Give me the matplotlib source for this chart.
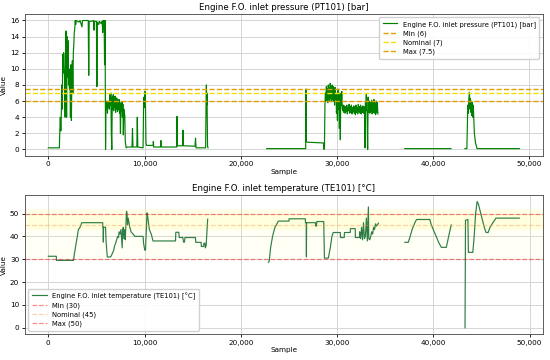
import numpy as np
import matplotlib
matplotlib.use('Agg')
import matplotlib.pyplot as plt

# pressure PT101 [bar], four logged segments (sample, value)
p1_x = [0, 1150, 1200, 1250, 1300, 1350, 1400, 1450, 1500, 1550, 1600, 1650, 1700, 1750,
        1800, 1850, 1900, 1950, 2000, 2050, 2100, 2150, 2200, 2250, 2300, 2350, 2400, 2450,
        2500, 2550, 2600, 2650, 2700, 2750, 2800, 2850, 2900, 3200, 3300, 3500, 3550, 4000,
        4150, 4200, 4250, 4500, 4700, 4750, 4800, 5000, 5050, 5100, 5250, 5300, 5500, 5600,
        5650, 5700, 5750, 5800, 5850, 5900, 5950, 6000, 6050, 6100, 6150, 6200, 6250, 6300,
        6350, 6400, 6450, 6500, 6550, 6600, 6650, 6700, 6750, 6800, 6850, 6900, 6950, 7000,
        7050, 7100, 7150, 7200, 7250, 7300, 7350, 7400, 7450, 7500, 7550, 7600, 7650, 7700,
        7750, 7800, 7850, 7900, 7950, 8000, 8050, 8100, 8200, 8700, 8750, 8800, 9200, 9250,
        9300, 9850, 9900, 9950, 10000, 10050, 10100, 10150, 10200, 10900, 10920, 10950,
        11650, 11700, 11750, 13350, 13380, 13420, 13950, 14000, 14050, 15250, 15300, 15350,
        16350, 16400, 16430, 16460, 16490, 16520, 16550, 16600]
p1_y = [0.2, 0.2, 2.5, 4.0, 2.3, 4.2, 8.0, 5.0, 11.8, 9.5, 12.0, 10.0, 8.5, 4.0,
        13.0, 14.7, 4.0, 14.0, 9.0, 13.5, 8.0, 10.0, 7.5, 9.5, 4.0, 10.5, 3.6, 9.0,
        11.0, 7.0, 12.0, 13.0, 14.5, 15.0, 16.0, 15.5, 16.0, 15.8, 16.0, 15.2, 16.0, 16.0,
        16.0, 9.2, 15.9, 15.9, 16.0, 14.8, 15.9, 15.9, 7.8, 15.8, 15.5, 15.9, 15.6, 15.9,
        14.5, 16.0, 15.0, 16.0, 10.5, 16.0, 0.0, 6.0, 5.0, 5.8, 4.5, 6.0, 5.2, 5.7,
        5.0, 6.8, 5.5, 7.0, 2.0, 0.0, 6.5, 5.0, 6.8, 4.8, 6.5, 5.2, 6.6, 4.6,
        6.4, 5.0, 6.3, 4.7, 6.0, 5.0, 6.2, 4.5, 5.8, 2.0, 5.5, 4.8, 5.9, 4.0,
        5.6, 1.8, 5.0, 4.5, 4.2, 1.0, 0.5, 0.2, 0.3, 0.3, 2.6, 0.3, 0.3, 4.0,
        0.3, 0.2, 5.0, 6.5, 5.2, 7.2, 5.5, 0.8, 0.5, 0.5, 1.0, 0.3,
        0.3, 1.1, 0.3, 0.3, 4.1, 0.45, 0.45, 2.4, 0.45, 0.4, 1.4, 0.2,
        0.2, 6.0, 8.0, 5.5, 7.0, 4.0, 0.4, 0.2]

p2_x = [22700, 26750, 26780, 26820, 26900, 28600, 28650, 28700, 28750, 28800, 28850, 28900,
        28950, 29000, 29050, 29100, 29150, 29200, 29250, 29300, 29350, 29400, 29450, 29500,
        29550, 29600, 29650, 29700, 29750, 29800, 29850, 29900, 29950, 30000, 30050, 30100,
        30150, 30200, 30250, 30300, 30350, 30400, 30450, 30500, 30550, 30600, 30660, 30720,
        30780, 30840, 30900, 30960, 31020, 31080, 31140, 31200, 31260, 31320, 31380, 31440,
        31500, 31560, 31620, 31680, 31740, 31800, 31860, 31920, 31980, 32040, 32100, 32160,
        32220, 32280, 32340, 32400, 32460, 32520, 32580, 32640, 32700, 32760, 32820, 32880,
        32920, 32960, 33000, 33050, 33090, 33130, 33190, 33240, 33300, 33360, 33420, 33480,
        33540, 33600, 33660, 33720, 33780, 33840, 33900, 33960, 34020, 34080, 34140, 34200,
        34250]
p2_y = [0.1, 0.1, 7.5, 1.0, 0.9, 0.8, 0.0, 0.1, 5.5, 7.0, 6.0, 7.8,
        6.2, 7.5, 5.8, 8.0, 6.3, 7.6, 6.0, 8.2, 6.4, 7.7, 5.9, 8.0,
        6.2, 7.8, 6.0, 7.5, 5.5, 7.7, 6.2, 7.0, 4.5, 6.8, 3.6, 7.5,
        5.0, 6.5, 2.6, 7.0, 1.2, 6.8, 5.5, 7.2, 5.2, 4.8, 5.5, 4.6,
        5.4, 4.5, 5.3, 4.7, 5.5, 4.4, 5.2, 4.8, 5.6, 4.5, 5.3, 4.6,
        5.5, 4.4, 5.2, 4.7, 5.4, 4.5, 5.3, 4.3, 5.5, 4.6, 5.2, 4.4,
        5.6, 4.7, 5.3, 4.5, 5.5, 4.4, 5.2, 4.6, 5.4, 4.5, 5.3, 4.7,
        0.2, 5.8, 4.8, 6.8, 5.0, 4.6, 0.0, 6.5, 4.6, 6.0, 4.5, 5.8,
        4.7, 6.1, 4.4, 5.9, 4.6, 6.2, 4.5, 5.7, 4.3, 6.0, 4.6, 5.8,
        4.4]

p3_x = [37050, 41850]
p3_y = [0.1, 0.1]

p4_x = [43300, 43500, 43550, 43600, 43650, 43700, 43770, 43820, 43870, 43920, 43970,
        44020, 44070, 44120, 44170, 44220, 44280, 44400, 44560, 48950]
p4_y = [0.1, 0.1, 3.0, 5.5, 4.5, 6.2, 7.1, 5.0, 6.3, 4.6, 6.0,
        4.2, 5.8, 4.0, 5.5, 4.0, 2.0, 0.8, 0.1, 0.1]

# temperature TE101 [degC], four logged segments
t1_x = [0, 830, 850, 2620, 2700, 2900, 3050, 3130, 3300, 3480, 5650, 5670, 5700, 5720,
        5740, 5950, 6000, 6130, 6480, 6600, 6800, 6900, 7000, 7100, 7200, 7300, 7350, 7450,
        7550, 7600, 7680, 7720, 7800, 7850, 7900, 7950, 8000, 8050, 8130, 8180, 8230, 8300,
        8470, 8600, 8810, 9000, 9330, 9850, 9900, 10020, 10100, 10260, 10350, 10500, 10700,
        10880, 13220, 13250, 13560, 13600, 13980, 14050, 14150, 14200, 15290, 15320, 15880,
        15900, 16150, 16170, 16280, 16320, 16400, 16560]
t1_y = [31.3, 31.3, 29.5, 29.5, 32, 37, 41, 43, 44, 46, 46, 44, 44, 37.5,
        44, 44, 38, 31, 31, 32, 34, 36, 37, 38.5, 40, 39.5, 42, 41,
        43, 40, 35, 43, 44, 39, 41, 43, 38.5, 44, 51, 50, 45, 48,
        44, 42, 41, 40, 40, 40, 37, 34, 34, 50.3, 48, 43, 41,
        38, 38, 41.8, 41.8, 39.5, 39.5, 37.5, 37.5, 39.5, 39.5, 37.4, 37.4,
        35.6, 35.6, 37, 37, 35, 36, 47.5]

t2_x = [22860, 22950, 23100, 23300, 23550, 23700, 23900, 25000, 25020, 26700, 26720, 26800,
        26820, 26840, 27760, 27800, 27860, 27900, 28620, 28690, 29100, 29300, 29470, 29600,
        30340, 30360, 30750, 30770, 31370, 31390, 31890, 31910, 32330, 32350, 32450, 32550,
        32650, 32750, 32850, 32950, 33050, 33150, 33260, 33300, 33400, 33500, 33600, 33700,
        33800, 33900, 34000, 34100, 34300]
t2_y = [28.7, 29, 35, 40, 44, 45, 46.7, 46.7, 47.7, 47.7, 46, 46,
        31, 46, 46, 44.5, 44.5, 46.5, 46.5, 30.5, 30.5, 35, 40, 41.7,
        41.7, 39.5, 39.5, 41.7, 41.7, 43.4, 43.4, 39.5, 39.5, 42, 39, 44,
        38.5, 46, 39, 40, 48, 38, 52.9, 39, 38.5, 40, 42, 41,
        44, 43, 45.5, 44.5, 45.8]

t3_x = [37050, 37400, 37600, 37800, 38090, 38260, 39640, 39800, 40000, 40200, 40400, 40600,
        40840, 41350, 41500, 41700, 41870]
t3_y = [37.4, 37.4, 40, 43, 46, 47.4, 47.4, 45, 43, 41, 39, 37,
        35.2, 35.2, 38, 42, 45]

t4_x = [43300, 43350, 43600, 43650, 44110, 44250, 44400, 44560, 44700, 45000, 45300, 45490,
        45700, 45900, 46200, 46520, 48940]
t4_y = [0, 47, 47.4, 33, 33, 40, 50, 55.3, 54, 49, 44, 41.7,
        41.7, 44, 46, 48, 48]

p_limits = {'Min': 6, 'Nominal': 7, 'Max': 7.5}
t_limits = {'Min': 30, 'Nominal': 45, 'Max': 50}


def join(segs):
    xs, ys = [], []
    for sx, sy in segs:
        xs += list(sx) + [np.nan]
        ys += list(sy) + [np.nan]
    return np.array(xs[:-1], dtype=float), np.array(ys[:-1], dtype=float)


def fmt_thousands(v, pos):
    return '{:,.0f}'.format(v)


plt.rcParams['font.family'] = ['DejaVu Sans']
plt.rcParams['font.size'] = 5.2

fig = plt.figure(figsize=(5.5, 3.6), dpi=100)
ax1 = fig.add_axes([0.045, 0.567, 0.942, 0.394])
ax2 = fig.add_axes([0.045, 0.072, 0.942, 0.386])

px, py = join([(p1_x, p1_y), (p2_x, p2_y), (p3_x, p3_y), (p4_x, p4_y)])
ax1.plot(px, py, color='green', lw=0.85, label='Engine F.O. inlet pressure (PT101) [bar]')
ax1.axhline(p_limits['Min'], color='#E0A000', ls='--', lw=1.0, label='Min (6)')
ax1.axhline(p_limits['Nominal'], color='#F2E000', ls='--', lw=1.0, label='Nominal (7)')
ax1.axhline(p_limits['Max'], color='#E0A000', ls='--', lw=1.0, label='Max (7.5)')
ax1.set_title('Engine F.O. inlet pressure (PT101) [bar]', fontsize=6.2, pad=3)
ax1.set_xlabel('Sample', labelpad=1)
ax1.set_ylabel('Value', labelpad=2)
ax1.set_yticks(np.arange(0, 17, 2))
ax1.legend(loc='upper right', fontsize=4.9, framealpha=0.9, borderpad=0.5, labelspacing=0.4,
           handlelength=2.2)

tx, ty = join([(t1_x, t1_y), (t2_x, t2_y), (t3_x, t3_y), (t4_x, t4_y)])
ax2.axhspan(30, 50, color='#FFFF80', alpha=0.08, lw=0)
ax2.axhspan(43, 52, color='#FFFF60', alpha=0.15, lw=0)
ax2.plot(tx, ty, color='#2E7D45', lw=0.85, label='Engine F.O. inlet temperature (TE101) [°C]')
ax2.axhline(t_limits['Min'], color='red', alpha=0.45, ls='--', lw=0.9, label='Min (30)')
ax2.axhline(t_limits['Nominal'], color='#FF9955', alpha=0.45, ls='--', lw=0.9, label='Nominal (45)')
ax2.axhline(t_limits['Max'], color='red', alpha=0.45, ls='--', lw=0.9, label='Max (50)')
ax2.set_title('Engine F.O. inlet temperature (TE101) [°C]', fontsize=6.2, pad=3)
ax2.set_xlabel('Sample', labelpad=1)
ax2.set_ylabel('Value', labelpad=2)
ax2.legend(loc='lower left', fontsize=4.9, framealpha=0.9, borderpad=0.5, labelspacing=0.4,
           handlelength=2.2)

for ax in (ax1, ax2):
    ax.grid(True, color='#d5d5d5', lw=0.7)
    ax.set_axisbelow(True)
    ax.set_xticks([0, 10000, 20000, 30000, 40000, 50000])
    ax.xaxis.set_major_formatter(plt.FuncFormatter(fmt_thousands))
    ax.tick_params(labelsize=5.2, length=2.5, width=0.6, pad=1.5)
    for s in ax.spines.values():
        s.set_linewidth(0.6)
        s.set_color('#444444')

fig.savefig('out.png', dpi=100)
